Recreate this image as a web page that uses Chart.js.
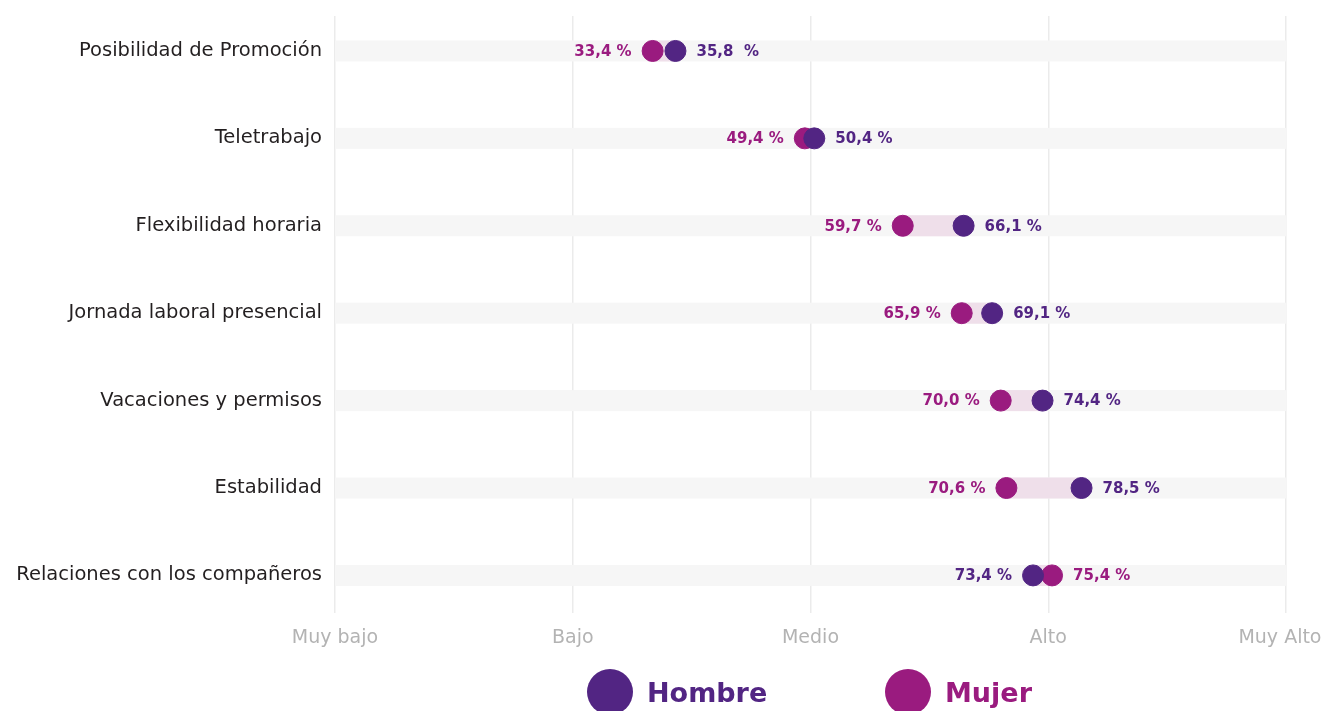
<!DOCTYPE html>
<html>
<head>
<meta charset="utf-8">
<script src="https://cdn.jsdelivr.net/npm/chart.js@4"></script>
<style>
    html, body { margin: 0; padding: 0; background: #fff; overflow: hidden; }
    #wrap { position: relative; width: 1322px; height: 711px; overflow: hidden; }
    #legend {
        position: absolute; left: 0; top: 669px; width: 1322px;
        font-family: 'DejaVu Sans', sans-serif; font-weight: 700; font-size: 27px;
    }
    .item { position: absolute; display: flex; align-items: center; }
    .dot { width: 46px; height: 46px; border-radius: 50%; margin-right: 14px; }
</style>
</head>
<body>
<div id="wrap">
    <canvas id="dumbbellChart" width="1322" height="711"></canvas>
    <div id="legend"></div>
</div>
<script>
// Data
const categories = [
    'Posibilidad de Promoción',
    'Teletrabajo',
    'Flexibilidad horaria',
    'Jornada laboral presencial',
    'Vacaciones y permisos',
    'Estabilidad',
    'Relaciones con los compañeros'
];
const hombre = [35.8, 50.4, 66.1, 69.1, 74.4, 78.5, 73.4];
const mujer = [33.4, 49.4, 59.7, 65.9, 70.0, 70.6, 75.4];
const hombreText = ['35,8  %', '50,4 %', '66,1 %', '69,1 %', '74,4 %', '78,5 %', '73,4 %'];
const mujerText = ['33,4 %', '49,4 %', '59,7 %', '65,9 %', '70,0 %', '70,6 %', '75,4 %'];
const levelTicks = [0, 25, 50, 75, 100];
const levelLabels = ['Muy bajo', 'Bajo', 'Medio', 'Alto', 'Muy Alto  '];

const PURPLE = '#522583';
const MAGENTA = '#9a1b7f';
const FONT = "'DejaVu Sans', sans-serif";

// Grey row bands and pink connectors between the two dots
const bandsPlugin = {
    id: 'bands',
    beforeDatasetsDraw(chart) {
        const { ctx, scales: { x, y } } = chart;
        const h = 21;
        ctx.save();
        categories.forEach((c, i) => {
            const py = y.getPixelForValue(i);
            const x0 = x.getPixelForValue(0);
            const x1 = x.getPixelForValue(100);
            ctx.fillStyle = '#f6f6f6';
            ctx.fillRect(x0, py - h / 2, x1 - x0, h);
            const a = x.getPixelForValue(Math.min(hombre[i], mujer[i]));
            const b = x.getPixelForValue(Math.max(hombre[i], mujer[i]));
            ctx.fillStyle = '#efdfea';
            ctx.fillRect(a, py - h / 2, b - a, h);
        });
        ctx.restore();
    }
};

// Value labels: lower value on the left, higher on the right
const valueLabelsPlugin = {
    id: 'valueLabels',
    afterDatasetsDraw(chart) {
        const { ctx, scales: { x, y } } = chart;
        ctx.save();
        ctx.font = '700 15px ' + FONT;
        ctx.textBaseline = 'middle';
        categories.forEach((c, i) => {
            const py = y.getPixelForValue(i) + 1;
            const hx = x.getPixelForValue(hombre[i]);
            const mx = x.getPixelForValue(mujer[i]);
            const hRight = hombre[i] >= mujer[i];
            ctx.fillStyle = PURPLE;
            ctx.textAlign = hRight ? 'left' : 'right';
            ctx.fillText(hombreText[i], hRight ? hx + 21 : hx - 21, py);
            ctx.fillStyle = MAGENTA;
            ctx.textAlign = hRight ? 'right' : 'left';
            ctx.fillText(mujerText[i], hRight ? mx - 21 : mx + 21, py);
        });
        ctx.restore();
    }
};

const ctx = document.getElementById('dumbbellChart').getContext('2d');
const chart = new Chart(ctx, {
    type: 'scatter',
    data: {
        datasets: [
            {
                label: 'Hombre',
                data: hombre.map((v, i) => ({ x: v, y: i })),
                backgroundColor: PURPLE,
                borderColor: PURPLE,
                pointRadius: 10.5,
                pointHoverRadius: 10.5
            },
            {
                label: 'Mujer',
                data: mujer.map((v, i) => ({ x: v, y: i })),
                backgroundColor: MAGENTA,
                borderColor: MAGENTA,
                pointRadius: 10.5,
                pointHoverRadius: 10.5
            }
        ]
    },
    options: {
        responsive: false,
        animation: false,
        layout: {
            padding: { top: 16, right: 0, bottom: 0, left: 0 }
        },
        plugins: {
            legend: { display: false },
            tooltip: { enabled: false }
        },
        scales: {
            x: {
                min: 0,
                max: 100,
                afterBuildTicks: s => { s.ticks = levelTicks.map(v => ({ value: v })); },
                afterFit: s => {
                    s.height = 98;
                    s.paddingLeft = 0;
                    s.paddingRight = 36;
                },
                ticks: {
                    color: '#b3b3b3',
                    padding: 14,
                    maxRotation: 0,
                    font: { family: FONT, size: 19 },
                    callback: v => levelLabels[levelTicks.indexOf(v)]
                },
                grid: {
                    color: '#ebebeb',
                    lineWidth: 1.5,
                    drawTicks: false
                },
                border: { display: false }
            },
            y: {
                reverse: true,
                min: -0.4,
                max: 6.43,
                afterBuildTicks: s => { s.ticks = categories.map((c, i) => ({ value: i })); },
                afterFit: s => {
                    s.width = 335;
                    s.paddingTop = 0;
                    s.paddingBottom = 0;
                },
                ticks: {
                    color: '#231f20',
                    padding: 5,
                    font: { family: FONT, size: 19.5 },
                    callback: v => categories[v]
                },
                grid: { display: false },
                border: { display: false }
            }
        }
    },
    plugins: [bandsPlugin, valueLabelsPlugin]
});

// HTML legend built from the datasets
const legendEl = document.getElementById('legend');
const legendX = [587, 885];
chart.data.datasets.forEach((ds, i) => {
    const item = document.createElement('div');
    item.className = 'item';
    item.style.left = legendX[i] + 'px';
    item.style.color = ds.backgroundColor;
    item.innerHTML = '<span class="dot" style="background:' + ds.backgroundColor + '"></span>' + ds.label;
    legendEl.appendChild(item);
});
</script>
</body>
</html>
